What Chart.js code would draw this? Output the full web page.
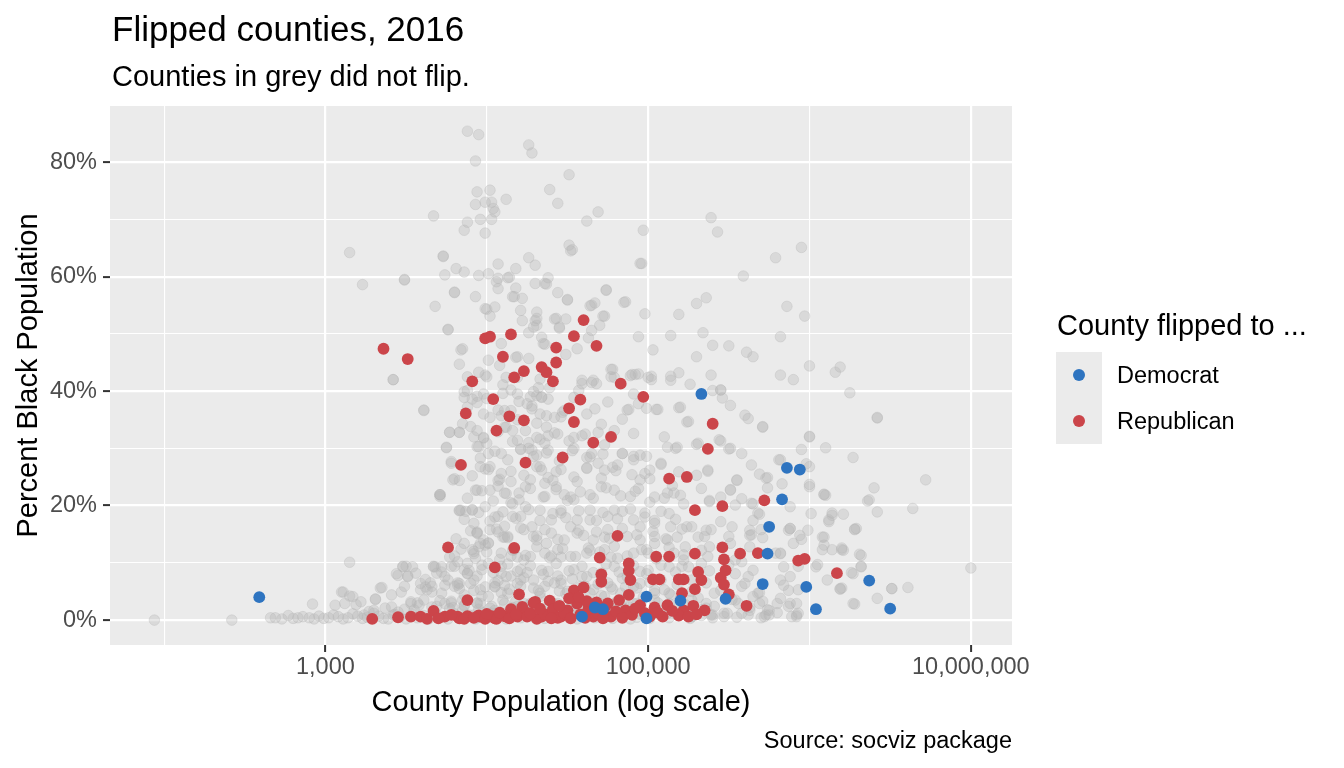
<!DOCTYPE html>
<html>
<head>
<meta charset="utf-8">
<script src="https://cdn.jsdelivr.net/npm/chart.js@4.4.1/dist/chart.umd.min.js"></script>
<style>
  html, body { margin: 0; padding: 0; background: #ffffff; }
  #wrap { width: 1344px; height: 768px; }
</style>
</head>
<body>
<div id="wrap"><canvas id="flipChart" width="1344" height="768"></canvas></div>
<script>
// every row is [log10(county population), percent black population]

// counties that did not flip, above 40%
const notFlippedUpper = [
  [3.88,85.4],[3.95,84.8],[3.93,80.2],[4.26,83.0],[4.28,81.6],[3.94,74.8],[4.02,75.1],[4.12,73.5],
  [3.93,72.6],[3.99,73.0],[4.03,73.0],[4.04,71.9],[4.05,71.3],[3.67,70.6],[3.88,69.5],[3.96,70.0],
  [4.03,70.0],[3.86,68.1],[3.99,67.6],[4.39,75.2],[4.44,72.8],[3.15,64.2],[3.73,63.6],[3.81,61.4],
  [3.86,60.8],[4.07,62.2],[4.18,61.4],[4.26,63.3],[4.30,62.0],[3.74,60.3],[3.95,60.2],[4.01,60.5],
  [4.07,59.7],[4.06,59.1],[4.14,59.9],[4.30,58.8],[4.36,58.8],[4.38,59.8],[4.44,57.2],[3.23,58.6],
  [3.49,59.5],[3.80,57.3],[3.93,56.5],[4.07,57.9],[4.18,58.0],[4.16,56.5],[4.22,56.2],[3.68,54.8],
  [3.99,54.4],[4.05,54.7],[4.21,54.1],[4.02,53.1],[4.31,53.8],[4.31,52.7],[4.22,52.3],[4.31,51.5],
  [4.43,52.7],[4.45,51.2],[3.76,50.8],[4.26,50.2],[4.34,49.4],[4.35,48.3],[4.09,48.3],[3.85,47.4],
  [4.19,46.0],[4.26,45.7],[4.01,45.4],[3.83,44.7],[3.95,43.3],[3.99,42.8],[3.42,42.0],[3.88,42.5],
  [4.08,44.5],[4.51,77.8],[4.69,71.3],[4.62,69.7],[4.97,68.1],[4.96,62.3],[4.51,65.5],[4.53,64.7],
  [5.39,70.3],[5.43,67.8],[5.95,65.1],[5.79,63.3],[5.59,60.1],[4.74,57.7],[4.86,55.6],[4.67,55.4],
  [4.65,55.0],[4.50,56.0],[4.73,53.1],[4.70,51.5],[4.65,50.6],[4.63,49.3],[4.56,47.4],[4.49,46.4],
  [4.98,53.5],[5.19,53.4],[5.30,55.3],[5.36,56.3],[4.94,49.5],[5.14,49.7],[5.34,50.2],[5.03,47.2],
  [5.40,48.0],[5.50,47.9],[5.61,46.8],[5.65,46.0],[5.30,46.0],[5.82,49.5],[5.86,54.8],[5.97,53.1],
  [6.00,44.4],[6.16,43.3],[6.19,44.2],[4.78,43.8],[4.90,42.9],[4.94,43.0],[5.02,42.6],[5.14,42.6],
  [5.19,43.2],[5.39,42.8],[5.82,42.8],[5.90,42.0],[4.59,41.9],[4.66,41.9],[4.77,42.5],
  [3.73,63.5],[4.52,64.5],[4.95,62.3],[3.49,59.4],[4.13,59.8],[4.37,58.7],[3.80,57.2],[4.17,56.5],
  [4.50,55.9],[4.74,57.6],[4.85,55.5],[4.00,54.3],[4.30,52.3],[4.42,52.6],[4.49,52.6],[4.64,54.9],
  [4.72,53.1],[3.76,50.7],[4.29,51.2],[4.45,51.0],[4.36,48.2],[3.84,47.2],[4.18,45.9],[4.00,42.5],
  [4.12,42.4],[4.19,42.4],[4.33,42.1],[4.79,42.4],[4.89,42.7],[4.92,42.9],[5.00,42.4],[4.10,41.1],
  [4.32,40.6],[4.39,40.6],[4.59,41.3],[4.65,41.5],[4.77,43.8],[5.14,41.9],[5.26,41.2],[5.45,40.2]
];

// did not flip, small counties on the left
const notFlippedLeft = [
  [1.94,0.0],[2.42,0.0],[2.66,0.4],[2.69,0.4],[2.73,0.2],[2.77,0.8],[2.80,0.3],[2.83,0.4],
  [2.86,0.6],[2.90,0.4],[2.93,0.2],[2.92,2.8],[2.96,0.7],[2.99,0.3],[3.02,0.4],[3.05,0.9],
  [3.08,0.6],[3.11,0.2],[3.14,0.4],[3.17,1.1],[3.20,0.7],[3.23,0.3],[3.26,0.5],[3.30,1.2],
  [3.33,0.7],[3.36,0.3],[3.39,0.2],[3.42,0.9],[3.46,0.5],[3.50,0.2],[3.54,1.0],[3.57,0.4],
  [3.61,0.8],[3.64,0.2],[3.68,1.3],[3.15,10.1],[3.34,5.6],[3.31,3.7],[3.15,4.2],[3.10,4.9],
  [3.19,2.7],[3.06,2.6],[3.12,2.9],[3.22,3.2],[3.30,1.7],[3.41,2.3],[3.35,5.7],[3.41,4.4],
  [3.47,4.9],[3.11,4.9],[3.17,4.1],[3.31,3.6],[3.53,3.2],[3.48,9.3],[3.54,9.3],[3.45,7.8],
  [3.51,7.6],[3.59,6.4],[3.62,5.8],[3.48,9.4],[3.44,8.1],[3.51,7.7],[3.43,1.0],[3.49,1.9],
  [3.57,3.0],[3.62,7.1],[3.66,5.9],[3.66,4.9],[3.68,9.3],[3.72,8.4],[3.76,7.0],[3.67,9.3],
  [3.72,9.3],[3.71,21.9],[3.71,21.6],[3.61,36.7],[3.42,42.0],[3.66,2.3],[3.74,2.9],[3.55,1.8],
  [3.61,36.6],[3.75,30.2],[3.71,21.9],[3.50,9.4],[3.56,8.2],[3.67,9.4],[3.49,5.9],[3.59,5.3],
  [3.65,6.5],[3.53,2.9],[3.61,3.5],[3.69,2.4],[3.27,1.5],[3.37,2.1],[3.45,1.4],[3.24,0.9]
];

// did not flip, the dense middle of the cloud
const notFlippedMiddle = [
  [3.72,0.5],[3.76,0.2],[3.80,1.1],[3.84,0.4],[3.89,0.9],[3.93,0.2],[3.98,1.3],[4.02,0.5],
  [4.07,0.9],[4.12,0.2],[4.17,1.2],[4.21,0.4],[4.26,0.8],[4.31,1.4],[4.36,0.3],[4.41,0.9],
  [4.46,1.3],[4.51,0.5],[4.56,0.2],[4.61,1.1],[4.67,0.4],[4.72,1.0],[4.78,0.3],[4.83,0.8],
  [4.89,0.2],[4.95,1.0],[5.01,0.3],[5.07,0.9],[5.13,0.4],[5.20,1.1],[5.26,0.3],[5.33,0.8],
  [5.40,0.4],[5.47,1.2],[5.55,0.5],[5.62,0.9],[5.70,0.4],[5.80,1.3],[5.92,0.6],[3.77,2.0],
  [3.95,1.9],[4.16,2.2],[4.34,1.7],[4.54,2.1],[4.76,1.8],[4.94,2.2],[5.16,1.9],[5.36,2.1],
  [3.58,2.6],[3.71,3.4],[3.79,2.2],[3.86,4.4],[3.94,3.0],[4.03,2.4],[4.09,4.8],[4.18,3.3],
  [4.26,2.6],[4.33,4.1],[4.42,2.3],[4.49,4.6],[4.58,3.2],[4.66,2.5],[4.71,4.3],[4.80,3.1],
  [4.88,2.3],[4.97,4.0],[5.06,3.0],[5.14,4.4],[5.23,2.7],[5.31,3.9],[5.41,2.4],[5.52,3.6],
  [5.63,2.2],[5.71,3.3],[3.63,5.3],[3.74,6.1],[3.83,5.5],[3.92,7.0],[3.99,5.8],[4.07,6.9],
  [4.14,5.4],[4.23,7.4],[4.29,5.6],[4.38,6.8],[4.45,5.1],[4.53,7.2],[4.61,5.9],[4.69,6.3],
  [4.78,5.4],[4.84,7.3],[4.93,5.6],[5.01,6.6],[5.10,5.3],[5.18,6.2],[5.27,5.0],[5.36,6.5],
  [5.45,5.2],[5.58,5.9],[5.69,4.8],[3.69,8.2],[3.78,9.4],[3.88,8.1],[3.97,9.6],[4.04,8.3],
  [4.13,9.8],[4.19,8.5],[4.27,9.5],[4.35,8.0],[4.43,9.9],[4.51,8.6],[4.59,9.4],[4.66,8.3],
  [4.74,9.8],[4.82,8.4],[4.91,9.5],[4.99,8.1],[5.08,9.6],[5.17,8.4],[5.25,9.3],[5.38,8.6],
  [5.50,9.7],[3.77,11.0],[3.84,12.4],[3.93,10.8],[4.00,11.9],[4.08,10.6],[4.16,12.2],[4.24,11.3],
  [4.31,12.8],[4.39,10.9],[4.47,12.5],[4.55,11.1],[4.63,12.6],[4.70,11.9],[4.79,12.9],[4.87,11.2],
  [4.96,12.3],[5.05,10.7],[5.13,12.7],[5.22,11.4],[5.33,12.2],[3.81,14.2],[3.90,15.6],[3.98,14.0],
  [4.06,15.9],[4.13,14.4],[4.21,16.1],[4.29,14.6],[4.36,15.8],[4.44,14.1],[4.52,16.3],[4.60,14.8],
  [4.68,15.4],[4.76,14.3],[4.84,16.0],[4.93,14.9],[5.03,15.5],[5.11,14.2],[5.21,15.9],[5.35,14.6],
  [3.86,17.6],[3.95,18.8],[4.02,17.3],[4.10,18.9],[4.18,17.8],[4.26,19.3],[4.33,17.4],[4.41,18.6],
  [4.49,17.9],[4.57,19.1],[4.64,17.5],[4.72,18.8],[4.81,17.7],[4.89,19.4],[4.98,18.0],[5.08,19.0],
  [5.17,17.6],[3.88,21.3],[3.97,22.6],[4.04,20.8],[4.12,22.1],[4.20,21.0],[4.27,23.0],[4.35,21.5],
  [4.43,22.8],[4.50,20.9],[4.58,22.4],[4.66,21.3],[4.74,23.1],[4.83,21.7],[4.92,22.5],[5.01,20.6],
  [5.12,22.2],[3.91,25.2],[3.99,26.4],[4.08,24.6],[4.15,26.0],[4.23,25.3],[4.31,26.8],[4.38,24.9],
  [4.46,26.3],[4.54,25.0],[4.62,26.6],[4.71,24.8],[4.80,26.1],[4.90,25.4],[3.96,28.3],[4.05,29.5],
  [4.13,28.0],[4.21,29.9],[4.29,28.6],[4.37,29.2],[4.45,27.8],[4.53,29.6],[4.62,28.4],[4.72,29.0],
  [3.98,31.8],[4.07,32.9],[4.16,31.2],[4.24,33.1],[4.33,31.6],[4.42,32.7],[4.51,31.3],[4.61,32.5],
  [4.02,35.4],[4.11,36.6],[4.19,35.0],[4.28,36.9],[4.37,35.7],[4.47,36.3],[4.00,38.7],[4.10,39.6],
  [4.20,38.2],[4.29,39.9],[4.38,38.6],
  [3.77,32.8],[3.83,32.8],[3.75,30.1],[3.78,27.7],[3.80,24.7],[3.83,19.2],[3.87,19.0],[3.91,19.3],
  [3.94,15.2],[3.92,12.0],[3.80,11.2],[3.82,6.5],[3.78,3.0],[3.86,8.8],[3.94,7.7],[3.97,4.2],
  [4.05,5.9],[4.09,9.4],[4.15,11.2],[4.01,13.5],[4.11,16.4],[4.15,20.5],[4.07,23.4],[4.01,26.3],
  [3.94,30.3],[3.90,33.8],[4.07,36.7],[3.94,39.1],[3.86,39.9],[4.15,40.2],[4.25,37.8],[4.31,34.4],
  [4.36,30.9],[4.21,29.8],[4.27,24.5],[4.36,21.6],[4.21,18.1],[4.31,14.7],[4.40,11.2],[4.25,8.3],
  [4.36,5.9],[4.15,7.7],[4.44,7.7],[3.82,10.2],[3.88,9.9],[3.92,11.6],[3.95,12.8],[3.82,6.1],
  [3.90,6.4],[4.01,4.1],[4.11,6.1],[4.21,7.0],[4.19,11.0],[4.11,14.5],[4.01,13.4],[3.86,13.4],
  [3.94,15.4],[4.07,15.4],[3.86,2.6]
];

// did not flip, second pass over the crowded part of the cloud
const notFlippedDense = [
  [3.88,40.1],[3.86,38.9],[3.91,38.6],[3.94,38.0],[3.98,39.5],[4.27,39.0],[4.31,39.2],[4.28,37.4],
  [4.34,38.9],[4.19,39.5],[3.88,37.2],[3.98,36.0],[4.09,35.7],[4.15,36.6],[4.33,36.0],[4.42,35.4],
  [4.48,36.6],[4.54,38.9],[4.62,36.0],[4.67,36.9],[4.71,34.2],[4.91,39.5],[4.94,37.8],[4.87,36.7],
  [4.84,35.1],[3.77,32.8],[3.83,32.8],[3.94,33.1],[3.98,31.9],[4.11,33.7],[4.16,33.1],[4.26,31.0],
  [4.31,31.9],[4.38,32.2],[4.44,32.5],[4.54,31.9],[4.59,32.2],[4.69,32.8],[4.79,33.1],
  [3.95,30.3],[4.00,30.9],[4.09,29.1],[4.26,30.0],[4.31,28.8],[4.38,29.7],[4.54,30.0],[4.65,29.1],
  [4.73,30.6],[4.84,29.1],[4.95,28.8],[3.78,27.4],[3.96,26.8],[4.02,26.8],[4.09,25.6],[4.15,24.2],
  [4.33,26.8],[4.43,25.9],[4.56,24.2],[4.62,26.5],[4.69,27.4],[4.81,27.1],[4.91,28.0],[4.98,25.6],
  [3.79,24.5],[3.71,21.9],[3.93,22.7],[4.02,22.7],[4.11,22.2],[4.20,22.2],[4.24,23.3],[4.36,23.9],
  [4.43,23.3],[4.48,21.9],[4.54,21.0],[4.64,21.9],[4.71,23.3],[4.79,22.7],[4.89,21.6],[4.95,24.5],
  [3.83,19.1],[3.91,19.2],[3.99,19.8],[4.07,18.1],[4.16,18.1],[4.24,19.8],[4.33,19.2],[4.40,17.5],
  [4.46,18.7],[4.56,17.5],[4.64,19.2],[4.75,18.1],[4.84,19.0],[4.91,17.5],[3.94,15.2],[4.02,15.8],
  [4.13,14.6],[4.23,15.8],[4.31,14.0],[4.40,15.2],[4.48,14.0],[4.56,15.2],[4.66,14.0],[4.75,15.8],
  [4.87,14.6],[4.95,14.0],[3.91,12.3],[3.99,13.1],[4.09,11.7],[4.17,12.3],[4.27,11.1],[4.36,11.7],
  [4.44,12.3],[4.52,11.1],[4.62,11.7],[4.73,12.3],[4.81,10.8],[4.91,11.7],[4.99,12.3],[3.74,7.6],
  [3.80,9.4],[3.88,8.2],[3.97,8.8],[4.09,8.2],[4.21,8.8],[4.29,7.0],[4.38,8.5],[4.46,7.0],
  [4.54,8.8],[4.62,7.6],[4.71,8.2],[4.79,9.4],[4.87,7.6],[4.95,8.5],[3.72,4.7],[3.80,5.9],
  [3.96,5.3],[4.05,6.5],[4.13,4.7],[4.21,5.9],[4.33,4.7],[4.42,6.5],[4.50,5.0],[4.58,5.9],
  [4.66,5.3],[4.75,6.5],[4.83,4.7],[4.91,5.9],[3.78,3.3],[3.86,2.4],[3.94,2.9],[4.02,2.1],
  [4.11,2.9],[4.19,2.4],[4.27,2.9],[4.36,2.1],[4.44,2.9],[4.52,2.4],[4.60,2.9],[4.69,2.1],
  [4.77,2.6],[4.85,2.1],[4.93,2.9],[3.85,1.6],[4.05,1.7],[4.24,1.5],[4.44,1.6],[4.64,1.7],
  [4.84,1.5],[5.04,1.6],[3.95,0.5],[4.14,0.7],[4.33,0.6],[4.53,0.8],[4.74,0.6],[4.93,0.5]
];

// did not flip, the larger counties on the right
const notFlippedRight = [
  [6.42,35.3],[6.72,24.5],[6.27,28.4],[6.40,23.1],[6.36,20.8],[6.42,18.9],[6.64,19.5],[6.28,15.8],
  [6.21,18.5],[6.14,18.3],[6.12,17.2],[6.09,14.5],[6.09,13.1],[6.21,12.2],[6.14,12.3],[6.32,11.3],
  [6.32,9.3],[6.27,8.1],[6.19,5.4],[6.28,2.8],[6.51,5.5],[6.61,5.7],[7.00,9.1],[6.09,22.0],
  [6.10,21.8],[6.10,30.1],[6.00,32.1],[5.95,29.8],[6.00,23.7],[6.01,18.6],[5.99,15.7],[5.95,14.1],
  [5.88,16.0],[5.82,28.0],[5.98,27.3],[5.83,23.8],[5.74,24.9],[5.74,23.1],[5.71,33.7],[5.60,35.8],
  [5.62,35.2],[5.69,25.5],[5.65,20.3],[5.65,17.4],[5.69,18.5],[5.71,14.4],[5.82,11.6],[5.84,9.3],
  [5.88,7.6],[5.82,7.0],[5.92,2.9],[5.87,5.2],[5.75,0.9],[5.75,1.7],[5.65,8.7],[5.63,15.7],
  [5.58,21.2],[5.55,24.4],[5.51,22.8],[5.50,29.9],[5.45,31.3],[5.37,26.0],[5.19,37.1],[5.24,34.6],
  [5.30,30.7],[5.40,40.1],[5.45,40.2],[5.46,38.8],[5.51,37.5],[5.18,30.2],[5.10,32.0],[5.12,30.2],
  [5.06,36.8],[4.99,37.0],[5.02,42.0],[4.88,36.8],[4.91,32.6],[5.08,27.2],[4.99,28.6],[4.91,28.6],
  [4.84,29.1],[4.78,26.7],[4.73,26.2],[4.64,28.5],[5.01,24.7],[4.94,23.0],[5.04,21.5],[5.15,23.5],
  [5.20,21.8],[5.33,23.0],[5.38,20.9],[5.45,21.5],[5.24,16.3],[5.36,15.7],[5.45,17.2],[5.52,16.3],
  [5.51,13.4],[5.63,12.8],[5.58,10.2],[5.54,8.1],[5.60,6.4],[5.65,4.1],[5.69,2.9],[5.56,2.9],
  [5.49,1.2],[5.40,0.9],[5.36,2.9],[5.27,3.5],[5.13,4.7],[5.04,5.2],[4.95,6.4],[5.00,8.7],
  [5.13,9.3],[5.22,10.5],[5.33,9.9],[5.38,12.8],[5.31,14.5],[5.18,14.5],[5.04,13.4],[4.95,16.3],
  [5.04,17.4],[5.13,18.6],[5.22,20.3],[4.79,19.2],[4.68,17.4],[4.73,14.5],[4.64,12.2],[4.77,11.0],
  [4.57,15.7],[4.46,19.2],[4.52,21.5],[4.41,24.4],[4.34,26.2],[4.28,29.7],[4.19,31.4],[4.37,33.7],
  [4.46,35.5],[4.57,40.1],[4.68,41.3],[4.75,38.1],[4.34,39.0],[4.12,33.7],[4.01,29.1],[3.92,32.0],
  [3.85,34.3],[3.83,24.4],[3.94,22.7],[4.07,24.4],[4.16,20.3],[4.05,18.0],[3.92,16.9],[3.84,19.2],
  [3.96,13.4],[4.10,14.5],[4.28,16.3],[4.37,13.4],[4.46,11.0],[4.34,8.7],[4.23,10.5],[4.12,7.6],
  [4.01,9.9],[3.89,8.7],[3.83,6.4],[3.92,5.2],[4.05,5.8],[4.19,6.4],[4.32,5.2],[4.46,6.4],
  [4.59,7.6],[4.64,4.7],[4.77,5.8],[4.86,5.8],[4.91,2.9],[4.79,1.7],[4.64,1.5],[4.52,0.9],
  [4.39,1.2],[4.28,0.6],[4.16,0.9],[4.03,1.2],[3.92,0.9],[5.09,1.5],[5.18,0.9],[5.27,0.6],
  [5.00,0.9],[5.13,2.9],[5.04,3.5],[4.84,3.5],[4.73,4.1],[4.55,2.9],[4.41,2.9],[4.23,2.9],
  [4.10,3.5],[3.96,2.9],[3.85,3.5],[5.63,14.8],[5.87,15.7],[5.94,14.8],[6.08,14.5],[6.28,15.9],
  [6.31,11.5],[6.20,12.3],[6.26,8.3],[6.51,5.5],[6.19,5.5],[6.27,2.9],[6.04,9.3],[5.84,6.1],
  [5.80,2.9],[5.88,2.9],[5.92,0.9],[5.73,0.9],[5.63,1.7],[5.82,11.7],
  [6.25,39.7],[5.05,36.8],[5.20,37.2],[5.25,34.7],[5.71,33.8],[6.42,35.4],[5.17,30.0],[5.31,30.9],
  [5.44,31.5],[5.51,30.0],[5.58,29.1],[5.64,27.1],[6.00,32.0],[5.81,28.0],[6.00,26.8],[6.00,23.3],
  [6.09,21.9],[6.37,21.0],[5.01,26.2],[5.08,27.4],[5.19,25.9],[5.30,25.3],[5.37,26.2],[5.55,24.5],
  [5.51,22.7],[5.73,24.8],[5.10,21.3],[5.16,22.2],[5.38,20.7],[5.54,20.1],[5.64,20.4],[5.68,18.7],
  [5.88,19.8],[6.14,18.7],[6.29,16.0],[6.12,17.5],[4.98,18.7],[5.04,16.9],[5.14,16.3],[5.27,16.3],
  [5.39,15.8],[5.50,14.6],[5.64,14.9],[5.70,15.8],[5.88,16.0],[5.90,13.4],[6.08,12.3],[6.20,12.6],
  [6.32,9.4],[6.20,5.6],[6.42,3.8],[5.79,11.7],[5.93,9.4],[6.05,9.7],[6.11,7.0],[5.93,5.3],
  [5.87,2.4],[5.82,3.8],[5.68,4.7],[5.74,1.8],[5.58,1.2],[5.54,3.5],[5.41,4.7],[5.33,1.8],
  [5.27,7.0],[5.21,9.4],[5.16,11.7],[5.12,14.0],[5.23,12.8],[5.37,11.1],[5.54,10.5],[5.62,7.6],
  [5.04,14.6],[5.00,11.7],[5.08,7.0],[5.04,4.7],[5.12,1.2],[5.27,0.6],[5.39,0.9],[5.47,0.6],
  [5.89,0.6],[5.93,1.2],[5.72,0.6]
];

const flippedRepublican = [
  [3.36,47.4],[3.51,45.6],[3.99,49.2],[4.02,49.5],[4.15,49.9],[4.43,47.6],[4.10,46.0],[4.43,45.0],
  [4.23,43.5],[4.34,44.2],[4.37,43.3],[3.91,41.7],[4.17,42.4],[4.41,41.7],[4.60,52.4],[4.54,49.6],
  [4.68,47.9],[4.83,41.3],[4.04,38.6],[3.87,36.1],[4.14,35.6],[4.23,34.9],[4.06,33.1],[3.84,27.1],
  [4.24,27.5],[4.47,28.4],[4.58,38.5],[4.51,37.0],[4.54,34.6],[4.97,39.0],[4.77,32.0],[4.66,31.0],
  [5.40,34.3],[5.37,29.9],[5.13,24.7],[5.24,25.0],[5.29,19.2],[5.46,19.9],[5.72,20.9],[4.81,14.7],
  [3.76,12.7],[4.17,12.6],[4.05,9.2],[4.70,10.9],[5.05,11.1],[5.13,11.1],[5.29,11.6],[5.46,12.7],
  [5.47,10.6],[5.57,11.6],[5.68,11.7],[5.93,10.4],[5.97,10.7],[6.17,8.2],[4.88,9.9],[4.88,8.6],
  [4.71,8.0],[4.71,6.7],[4.89,7.0],[5.03,7.1],[5.07,7.1],[5.19,7.1],[5.22,7.1],[5.31,8.4],
  [5.33,7.0],[5.29,5.4],[5.45,7.4],[5.48,8.7],[5.47,6.2],[5.50,4.5],[5.61,2.5],[5.35,1.7],
  [5.21,4.7],[5.22,1.7],[5.19,0.8],[5.09,0.6],[5.01,0.6],[5.04,2.2],[5.12,2.6],[4.95,2.6],
  [3.88,3.5],[4.20,4.5],[4.54,5.2],[4.60,5.7],[4.68,3.1],[4.39,3.4],[4.30,3.2],[4.88,4.4],
  [4.82,3.5],[4.75,2.9],[4.86,1.7],[4.77,0.6],[4.66,0.6],[4.50,1.7],[4.56,2.9],[4.46,0.6],
  [4.34,0.6],[4.23,1.6],[4.12,0.6],[4.05,0.3],[3.96,0.6],[3.83,0.3],[3.29,0.2],[3.45,0.5],
  [3.53,0.6],[3.59,0.6],[3.63,0.2],[3.67,1.6],[3.74,0.6],[3.82,0.6],[3.88,0.7],[3.95,0.8],
  [4.03,0.7],[4.06,0.2],[4.11,0.7],[4.15,1.9],[4.19,0.6],[4.22,2.3],[4.25,0.6],[4.29,3.0],
  [4.31,0.2],[4.36,1.0],[4.41,1.9],[4.44,0.4],[3.70,0.3],[3.78,0.9],[3.86,0.2],[3.92,0.4],
  [3.99,0.2],[4.00,1.1],[4.08,1.3],[4.14,0.3],[4.18,1.0],[4.27,1.2],[4.33,2.0],[4.40,0.3],
  [4.48,1.2],[4.52,0.3],[4.58,1.0],[4.61,0.4],[4.63,2.0],[4.69,1.2],[4.72,0.3],[4.80,1.5],
  [4.84,0.4],[4.90,0.9],[4.92,2.0],[4.98,1.2],[5.06,1.3],[5.15,1.6],[5.25,0.6],[5.28,2.5],
  [5.30,1.0],[4.73,2.2],[4.62,3.3],[4.51,3.8],[4.45,2.5],[4.57,4.0]
];

const flippedDemocrat = [
  [2.59,4.0],[5.33,39.5],[5.86,26.6],[5.94,26.3],[5.83,21.1],[5.75,16.3],[5.74,11.6],[5.71,6.3],
  [5.98,5.8],[6.04,1.9],[6.37,6.9],[6.50,2.0],[4.99,4.1],[4.99,0.3],[4.59,0.6],[4.67,2.2],
  [4.72,1.9],[5.20,3.4],[5.48,3.7]
];

const xTicks = [100, 1000, 10000, 100000, 1000000, 10000000];
const xTickLabels = { 1000: '1,000', 100000: '100,000', 10000000: '10,000,000' };
const yTicks = [0, 10, 20, 30, 40, 50, 60, 70, 80];
const legendLabels = ['Democrat', 'Republican'];
const partyColors = ['#2E74C0', '#CB454A'];

const FONT = '"Liberation Sans", Arial, Helvetica, sans-serif';
const toPoints = rows => rows.map(([lp, pct]) => ({ x: Math.pow(10, lp), y: pct }));
const isMajorX = v => xTickLabels[v] !== undefined;
const isMajorY = v => v % 20 === 0;

// panel background, titles, axis titles, caption and the legend
const ggDecor = {
    id: 'ggDecor',
    beforeDraw(chart) {
        const { ctx, chartArea: a } = chart;
        ctx.save();
        ctx.fillStyle = '#EBEBEB';
        ctx.fillRect(a.left, a.top, a.right - a.left, a.bottom - a.top);
        ctx.restore();
    },
    afterDraw(chart) {
        const { ctx, chartArea: a } = chart;
        ctx.save();
        ctx.fillStyle = '#000000';
        ctx.textBaseline = 'alphabetic';
        ctx.textAlign = 'left';
        ctx.font = `35px ${FONT}`;
        ctx.fillText('Flipped counties, 2016', 112, 41);
        ctx.font = `29px ${FONT}`;
        ctx.fillText('Counties in grey did not flip.', 112, 86);

        ctx.textAlign = 'center';
        ctx.fillText('County Population (log scale)', (a.left + a.right) / 2, 711);
        ctx.save();
        ctx.translate(37, (a.top + a.bottom) / 2);
        ctx.rotate(-Math.PI / 2);
        ctx.fillText('Percent Black Population', 0, 0);
        ctx.restore();

        ctx.textAlign = 'right';
        ctx.font = `23.5px ${FONT}`;
        ctx.fillText('Source: socviz package', a.right, 748);

        // legend
        ctx.textAlign = 'left';
        ctx.font = `29px ${FONT}`;
        ctx.fillText('County flipped to ...', 1057, 335);
        ctx.fillStyle = '#EBEBEB';
        ctx.fillRect(1056, 352, 46, 92);
        ctx.font = `23.5px ${FONT}`;
        legendLabels.forEach((label, i) => {
            const cy = 375 + i * 46;
            ctx.beginPath();
            ctx.arc(1079, cy, 6, 0, Math.PI * 2);
            ctx.fillStyle = partyColors[i];
            ctx.fill();
            ctx.fillStyle = '#000000';
            ctx.fillText(label, 1117, cy + 8);
        });
        ctx.restore();
    }
};

const greyRows = [].concat(notFlippedUpper, notFlippedLeft, notFlippedMiddle, notFlippedDense, notFlippedRight);

new Chart(document.getElementById('flipChart').getContext('2d'), {
    type: 'scatter',
    data: {
        datasets: [
            {
                label: legendLabels[0],
                data: toPoints(flippedDemocrat),
                backgroundColor: partyColors[0],
                borderWidth: 0,
                pointRadius: 5.9
            },
            {
                label: legendLabels[1],
                data: toPoints(flippedRepublican),
                backgroundColor: partyColors[1],
                borderWidth: 0,
                pointRadius: 5.9
            },
            {
                label: 'No',
                data: toPoints(greyRows),
                backgroundColor: 'rgba(179,179,179,0.32)',
                borderColor: 'rgba(179,179,179,0.32)',
                borderWidth: 1,
                pointRadius: 5.3
            }
        ]
    },
    options: {
        responsive: false,
        animation: false,
        devicePixelRatio: 1,
        events: [],
        layout: { padding: { left: 0, top: 106, right: 332, bottom: 0 } },
        plugins: {
            legend: { display: false },
            title: { display: false },
            tooltip: { enabled: false }
        },
        scales: {
            x: {
                type: 'logarithmic',
                min: Math.pow(10, 1.665),
                max: Math.pow(10, 7.255),
                afterBuildTicks: scale => { scale.ticks = xTicks.map(v => ({ value: v })); },
                afterFit: scale => { scale.height = 123; },
                border: { display: false },
                grid: {
                    color: '#FFFFFF',
                    lineWidth: c => (c.tick && isMajorX(c.tick.value)) ? 2.2 : 1.1,
                    tickLength: 7,
                    tickWidth: 2,
                    tickColor: c => (c.tick && isMajorX(c.tick.value)) ? '#333333' : 'rgba(0,0,0,0)'
                },
                ticks: {
                    autoSkip: false,
                    maxRotation: 0,
                    minRotation: 0,
                    padding: 1,
                    color: '#4D4D4D',
                    font: { family: FONT, size: 23.5 },
                    callback: v => xTickLabels[v] || ''
                }
            },
            y: {
                type: 'linear',
                min: -4.35,
                max: 89.8,
                afterBuildTicks: scale => { scale.ticks = yTicks.map(v => ({ value: v })); },
                afterFit: scale => { scale.width = 110; },
                border: { display: false },
                grid: {
                    color: '#FFFFFF',
                    lineWidth: c => (c.tick && isMajorY(c.tick.value)) ? 2.2 : 1.1,
                    tickLength: 7,
                    tickWidth: 2,
                    tickColor: c => (c.tick && isMajorY(c.tick.value)) ? '#333333' : 'rgba(0,0,0,0)'
                },
                ticks: {
                    autoSkip: false,
                    padding: 6,
                    color: '#4D4D4D',
                    font: { family: FONT, size: 23.5 },
                    callback: v => isMajorY(v) ? v + '%' : ''
                }
            }
        }
    },
    plugins: [ggDecor]
});
</script>
</body>
</html>
